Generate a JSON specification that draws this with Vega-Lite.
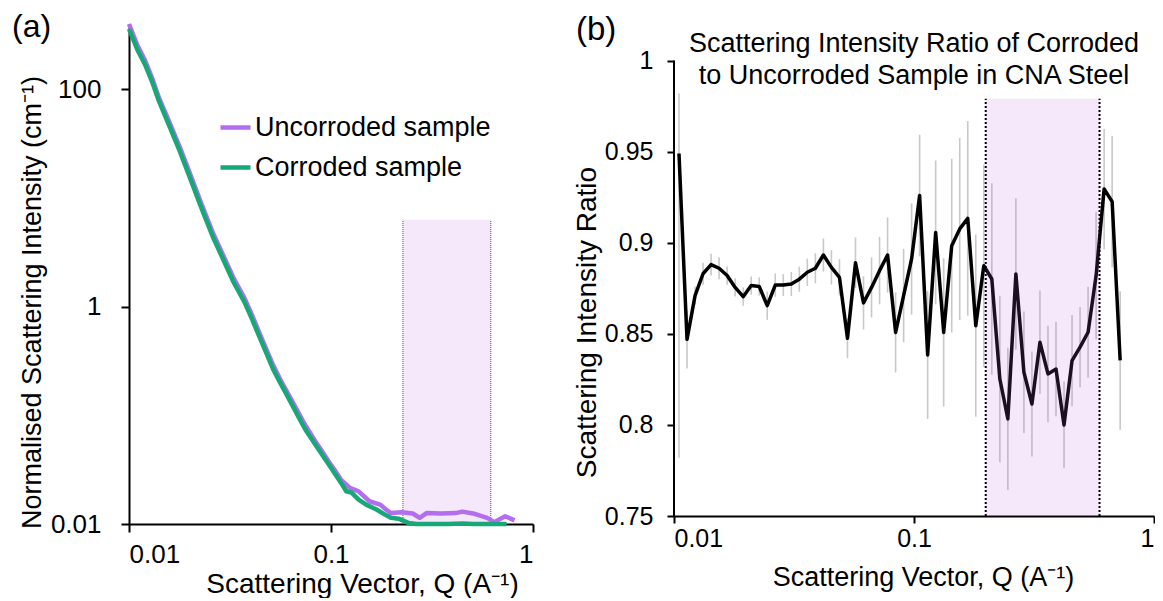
{
  "$schema": "https://vega.github.io/schema/vega-lite/v6.json",
  "padding": {"left": 12, "top": 10, "right": 0, "bottom": 0},
  "background": "white",
  "config": {
    "font": "Liberation Sans",
    "view": {"stroke": null},
    "axis": {"grid": false, "domainColor": "black", "domainWidth": 2, "tickColor": "black", "tickWidth": 2, "labelColor": "black", "titleColor": "black", "titleFontWeight": "normal", "labelFont": "Liberation Sans", "titleFont": "Liberation Sans", "titleFontSize": 27},
    "title": {"font": "Liberation Sans", "fontWeight": "normal", "color": "black"}
  },
  "datasets": {
    "saxs": [
      {"q":0.0100,"i":400,"s":"Uncorroded sample"},{"q":0.0110,"i":255,"s":"Uncorroded sample"},{"q":0.0120,"i":185,"s":"Uncorroded sample"},{"q":0.0130,"i":128,"s":"Uncorroded sample"},{"q":0.0141,"i":83,"s":"Uncorroded sample"},{"q":0.0160,"i":48,"s":"Uncorroded sample"},{"q":0.0179,"i":29,"s":"Uncorroded sample"},{"q":0.0200,"i":17,"s":"Uncorroded sample"},{"q":0.0229,"i":8.7,"s":"Uncorroded sample"},{"q":0.0260,"i":4.8,"s":"Uncorroded sample"},{"q":0.0292,"i":3.0,"s":"Uncorroded sample"},{"q":0.0330,"i":1.82,"s":"Uncorroded sample"},{"q":0.0373,"i":1.2,"s":"Uncorroded sample"},{"q":0.0405,"i":0.85,"s":"Uncorroded sample"},{"q":0.0450,"i":0.53,"s":"Uncorroded sample"},{"q":0.0517,"i":0.29,"s":"Uncorroded sample"},{"q":0.0560,"i":0.215,"s":"Uncorroded sample"},{"q":0.0608,"i":0.163,"s":"Uncorroded sample"},{"q":0.0680,"i":0.111,"s":"Uncorroded sample"},{"q":0.0746,"i":0.081,"s":"Uncorroded sample"},{"q":0.0830,"i":0.059,"s":"Uncorroded sample"},{"q":0.0915,"i":0.045,"s":"Uncorroded sample"},{"q":0.1000,"i":0.035,"s":"Uncorroded sample"},{"q":0.1060,"i":0.030,"s":"Uncorroded sample"},{"q":0.1121,"i":0.0255,"s":"Uncorroded sample"},{"q":0.1240,"i":0.0215,"s":"Uncorroded sample"},{"q":0.1370,"i":0.0200,"s":"Uncorroded sample"},{"q":0.1550,"i":0.0162,"s":"Uncorroded sample"},{"q":0.1750,"i":0.0151,"s":"Uncorroded sample"},{"q":0.1870,"i":0.0136,"s":"Uncorroded sample"},{"q":0.1980,"i":0.0126,"s":"Uncorroded sample"},{"q":0.2240,"i":0.0128,"s":"Uncorroded sample"},{"q":0.2540,"i":0.0125,"s":"Uncorroded sample"},{"q":0.2750,"i":0.0114,"s":"Uncorroded sample"},{"q":0.2970,"i":0.0126,"s":"Uncorroded sample"},{"q":0.3500,"i":0.0125,"s":"Uncorroded sample"},{"q":0.4130,"i":0.0126,"s":"Uncorroded sample"},{"q":0.4470,"i":0.0130,"s":"Uncorroded sample"},{"q":0.5050,"i":0.0125,"s":"Uncorroded sample"},{"q":0.5930,"i":0.0114,"s":"Uncorroded sample"},{"q":0.6430,"i":0.0104,"s":"Uncorroded sample"},{"q":0.7280,"i":0.0118,"s":"Uncorroded sample"},{"q":0.8100,"i":0.0108,"s":"Uncorroded sample"},
      {"q":0.0100,"i":360,"s":"Corroded sample"},{"q":0.0110,"i":232,"s":"Corroded sample"},{"q":0.0120,"i":170,"s":"Corroded sample"},{"q":0.0130,"i":118,"s":"Corroded sample"},{"q":0.0141,"i":77,"s":"Corroded sample"},{"q":0.0160,"i":44,"s":"Corroded sample"},{"q":0.0179,"i":26.6,"s":"Corroded sample"},{"q":0.0200,"i":15.5,"s":"Corroded sample"},{"q":0.0229,"i":8.0,"s":"Corroded sample"},{"q":0.0260,"i":4.4,"s":"Corroded sample"},{"q":0.0292,"i":2.75,"s":"Corroded sample"},{"q":0.0330,"i":1.67,"s":"Corroded sample"},{"q":0.0373,"i":1.1,"s":"Corroded sample"},{"q":0.0405,"i":0.78,"s":"Corroded sample"},{"q":0.0450,"i":0.49,"s":"Corroded sample"},{"q":0.0517,"i":0.266,"s":"Corroded sample"},{"q":0.0560,"i":0.20,"s":"Corroded sample"},{"q":0.0608,"i":0.151,"s":"Corroded sample"},{"q":0.0680,"i":0.102,"s":"Corroded sample"},{"q":0.0746,"i":0.074,"s":"Corroded sample"},{"q":0.0830,"i":0.055,"s":"Corroded sample"},{"q":0.0915,"i":0.042,"s":"Corroded sample"},{"q":0.1000,"i":0.033,"s":"Corroded sample"},{"q":0.1060,"i":0.028,"s":"Corroded sample"},{"q":0.1120,"i":0.024,"s":"Corroded sample"},{"q":0.1190,"i":0.0200,"s":"Corroded sample"},{"q":0.1260,"i":0.0195,"s":"Corroded sample"},{"q":0.1370,"i":0.0168,"s":"Corroded sample"},{"q":0.1500,"i":0.0150,"s":"Corroded sample"},{"q":0.1680,"i":0.0136,"s":"Corroded sample"},{"q":0.1850,"i":0.0122,"s":"Corroded sample"},{"q":0.1980,"i":0.0114,"s":"Corroded sample"},{"q":0.2160,"i":0.0112,"s":"Corroded sample"},{"q":0.2430,"i":0.0102,"s":"Corroded sample"},{"q":0.2640,"i":0.0100,"s":"Corroded sample"},{"q":0.3100,"i":0.0100,"s":"Corroded sample"},{"q":0.3800,"i":0.0100,"s":"Corroded sample"},{"q":0.4470,"i":0.0101,"s":"Corroded sample"},{"q":0.5050,"i":0.0100,"s":"Corroded sample"},{"q":0.5930,"i":0.0100,"s":"Corroded sample"},{"q":0.7000,"i":0.0100,"s":"Corroded sample"},{"q":0.7400,"i":0.0100,"s":"Corroded sample"}
    ],
    "ratio": [
      {"q":0.01049,"r":0.949,"lo":0.782,"hi":0.982},{"q":0.01133,"r":0.847,"lo":0.831,"hi":0.863},{"q":0.01224,"r":0.871,"lo":0.866,"hi":0.876},{"q":0.01321,"r":0.883,"lo":0.877,"hi":0.889},{"q":0.01427,"r":0.888,"lo":0.882,"hi":0.894},{"q":0.01541,"r":0.886,"lo":0.880,"hi":0.892},{"q":0.01665,"r":0.882,"lo":0.877,"hi":0.887},{"q":0.01798,"r":0.8755,"lo":0.8705,"hi":0.8805},{"q":0.01942,"r":0.8704,"lo":0.8654,"hi":0.8754},{"q":0.02097,"r":0.8765,"lo":0.8715,"hi":0.8815},
      {"q":0.02265,"r":0.876,"lo":0.871,"hi":0.881},{"q":0.02446,"r":0.8655,"lo":0.8577,"hi":0.8733},{"q":0.02642,"r":0.8768,"lo":0.8704,"hi":0.8832},{"q":0.02853,"r":0.8768,"lo":0.8708,"hi":0.8828},{"q":0.03082,"r":0.8774,"lo":0.8708,"hi":0.884},{"q":0.03328,"r":0.880,"lo":0.8731,"hi":0.8869},{"q":0.03594,"r":0.8838,"lo":0.8763,"hi":0.8913},{"q":0.03882,"r":0.886,"lo":0.8778,"hi":0.8942},{"q":0.04193,"r":0.8933,"lo":0.8842,"hi":0.9024},{"q":0.04528,"r":0.8865,"lo":0.8771,"hi":0.8959},
      {"q":0.04891,"r":0.881,"lo":0.871,"hi":0.891},{"q":0.05282,"r":0.8476,"lo":0.8366,"hi":0.8586},{"q":0.05705,"r":0.889,"lo":0.8751,"hi":0.9029},{"q":0.06161,"r":0.867,"lo":0.8524,"hi":0.8816},{"q":0.06654,"r":0.8755,"lo":0.859,"hi":0.892},{"q":0.07186,"r":0.8847,"lo":0.8662,"hi":0.9032},{"q":0.07761,"r":0.8933,"lo":0.8727,"hi":0.9139},{"q":0.08382,"r":0.8508,"lo":0.8288,"hi":0.8728},{"q":0.09052,"r":0.871,"lo":0.8454,"hi":0.8966},{"q":0.09772,"r":0.8911,"lo":0.8606,"hi":0.9216},
      {"q":0.10554,"r":0.9259,"lo":0.8925,"hi":0.9593},{"q":0.11399,"r":0.8384,"lo":0.8033,"hi":0.8735},{"q":0.12311,"r":0.9057,"lo":0.8662,"hi":0.9452},{"q":0.13296,"r":0.8508,"lo":0.8101,"hi":0.8915},{"q":0.14360,"r":0.8984,"lo":0.8507,"hi":0.9461},{"q":0.15508,"r":0.9076,"lo":0.8576,"hi":0.9576},{"q":0.16749,"r":0.9134,"lo":0.86,"hi":0.9668},{"q":0.18089,"r":0.8545,"lo":0.8045,"hi":0.9045},{"q":0.19536,"r":0.8874,"lo":0.8318,"hi":0.943},{"q":0.21099,"r":0.8801,"lo":0.8275,"hi":0.9327},
      {"q":0.22787,"r":0.8252,"lo":0.7795,"hi":0.8709},{"q":0.24610,"r":0.8033,"lo":0.7643,"hi":0.8423},{"q":0.26579,"r":0.8829,"lo":0.8413,"hi":0.9245},{"q":0.28705,"r":0.8289,"lo":0.7955,"hi":0.8623},{"q":0.31001,"r":0.8115,"lo":0.7827,"hi":0.8403},{"q":0.33481,"r":0.8454,"lo":0.817,"hi":0.8738},{"q":0.36160,"r":0.828,"lo":0.8015,"hi":0.8545},{"q":0.39053,"r":0.8307,"lo":0.8047,"hi":0.8567},{"q":0.42177,"r":0.800,"lo":0.7762,"hi":0.8238},{"q":0.45551,"r":0.8353,"lo":0.8103,"hi":0.8603},
      {"q":0.49195,"r":0.8427,"lo":0.8207,"hi":0.8647},{"q":0.53131,"r":0.8509,"lo":0.8259,"hi":0.8759},{"q":0.57381,"r":0.882,"lo":0.847,"hi":0.917},{"q":0.61972,"r":0.9295,"lo":0.8965,"hi":0.9625},{"q":0.66929,"r":0.9226,"lo":0.8866,"hi":0.9586},{"q":0.72283,"r":0.8354,"lo":0.7974,"hi":0.8734}
    ],
    "bandA": [{"q1":0.227,"q2":0.618,"lo":0.01,"hi":6.3}],
    "edgesA": [{"q":0.227,"lo":0.01,"hi":6.3},{"q":0.618,"lo":0.01,"hi":6.3}],
    "bandB": [{"q1":0.199,"q2":0.593,"lo":0.75,"hi":0.979}],
    "edgesB": [{"q":0.199,"lo":0.75,"hi":0.979},{"q":0.593,"lo":0.75,"hi":0.979}],
    "axisB": [{"q":0.01,"lo":0.75,"hi":1.0}]
  },
  "spacing": 39,
  "hconcat": [
    {
      "title": {"text": "(a)", "anchor": "start", "frame": "bounds", "fontSize": 32, "offset": -22, "dx": -6},
      "width": 404,
      "height": 500,
      "layer": [
        {
          "data": {"name": "bandA"},
          "mark": {"type": "rect", "color": "#b266e0", "opacity": 0.15},
          "encoding": {
            "x": {"field": "q1", "type": "quantitative", "scale": {"type": "log", "domain": [0.01, 1], "nice": false}},
            "x2": {"field": "q2"},
            "y": {"field": "lo", "type": "quantitative", "scale": {"type": "log", "domain": [0.01, 400], "nice": false}},
            "y2": {"field": "hi"}
          }
        },
        {
          "data": {"name": "edgesA"},
          "mark": {"type": "rule", "color": "#555555", "strokeWidth": 1, "strokeDash": [1, 1]},
          "encoding": {
            "x": {"field": "q", "type": "quantitative"},
            "y": {"field": "lo", "type": "quantitative"},
            "y2": {"field": "hi"}
          }
        },
        {
          "data": {"name": "saxs"},
          "mark": {"type": "line", "strokeWidth": 4.5, "strokeJoin": "round"},
          "encoding": {
            "x": {"field": "q", "type": "quantitative",
                  "axis": {"values": [0.01, 0.1, 1], "format": "~g", "tickSize": 8, "labelFontSize": 26, "labelPadding": 9, "title": "Scattering Vector, Q (A⁻¹)", "titleFontSize": 28, "titleX": 233, "titleY": 68, "titleBaseline": "alphabetic"}},
            "y": {"field": "i", "type": "quantitative",
                  "axis": {"values": [0.01, 1, 100], "format": "~g", "tickSize": 8, "labelFontSize": 26, "labelPadding": 20, "title": "Normalised Scattering Intensity (cm⁻¹)", "titleFontSize": 27, "titleX": -97, "titleY": 278, "titleBaseline": "middle"}},
            "color": {"field": "s", "type": "nominal",
                      "scale": {"domain": ["Uncorroded sample", "Corroded sample"], "range": ["#b36ef0", "#17a878"]},
                      "legend": {"orient": "none", "legendX": 89, "legendY": 86, "title": null, "symbolType": "stroke", "symbolStrokeWidth": 4.5, "symbolSize": 900, "labelFontSize": 27, "labelColor": "black", "labelLimit": 400, "labelOffset": 2, "rowPadding": 9, "padding": 0}},
            "order": {"field": "s", "sort": "descending"}
          }
        }
      ]
    },
    {
      "title": {"text": "(b)", "anchor": "start", "frame": "bounds", "fontSize": 33, "offset": -23, "dx": 3},
      "vconcat": [
        {
          "title": {"text": ["Scattering Intensity Ratio of Corroded", "to Uncorroded Sample in CNA Steel"], "fontSize": 27, "lineHeight": 32, "offset": -66, "anchor": "middle"},
          "width": 480,
          "height": 492,
          "layer": [
            {
              "data": {"name": "ratio"},
              "mark": {"type": "rule", "color": "#c8c8c8", "strokeWidth": 1.6},
              "encoding": {
                "x": {"field": "q", "type": "quantitative", "scale": {"type": "log", "domain": [0.01, 1], "nice": false},
                      "axis": {"values": [0.01, 0.1, 1], "format": "~g", "tickSize": 7, "labelFontSize": 25, "labelPadding": 3, "title": "Scattering Vector, Q (A⁻¹)", "titleX": 249, "titleY": 69, "titleBaseline": "alphabetic"}},
                "y": {"field": "lo", "type": "quantitative", "scale": {"domain": [0.75, 1.0201], "nice": false, "zero": false},
                      "axis": {"values": [0.75, 0.8, 0.85, 0.9, 0.95, 1], "format": "~g", "domain": false, "tickSize": 7, "labelFontSize": 25, "labelPadding": 14, "title": "Scattering Intensity Ratio", "titleFontSize": 28, "titleX": -87, "titleY": 298, "titleBaseline": "middle"}},
                "y2": {"field": "hi"}
              }
            },
            {
              "data": {"name": "ratio"},
              "mark": {"type": "line", "color": "black", "strokeWidth": 3.5, "strokeJoin": "round"},
              "encoding": {
                "x": {"field": "q", "type": "quantitative"},
                "y": {"field": "r", "type": "quantitative"}
              }
            },
            {
              "data": {"name": "bandB"},
              "mark": {"type": "rect", "color": "#b266e0", "opacity": 0.15},
              "encoding": {
                "x": {"field": "q1", "type": "quantitative"},
                "x2": {"field": "q2"},
                "y": {"field": "lo", "type": "quantitative"},
                "y2": {"field": "hi"}
              }
            },
            {
              "data": {"name": "edgesB"},
              "mark": {"type": "rule", "color": "black", "strokeWidth": 2, "strokeDash": [2, 2]},
              "encoding": {
                "x": {"field": "q", "type": "quantitative"},
                "y": {"field": "lo", "type": "quantitative"},
                "y2": {"field": "hi"}
              }
            },
            {
              "data": {"name": "axisB"},
              "mark": {"type": "rule", "color": "black", "strokeWidth": 2},
              "encoding": {
                "x": {"field": "q", "type": "quantitative"},
                "y": {"field": "lo", "type": "quantitative"},
                "y2": {"field": "hi"}
              }
            }
          ]
        }
      ]
    }
  ]
}
